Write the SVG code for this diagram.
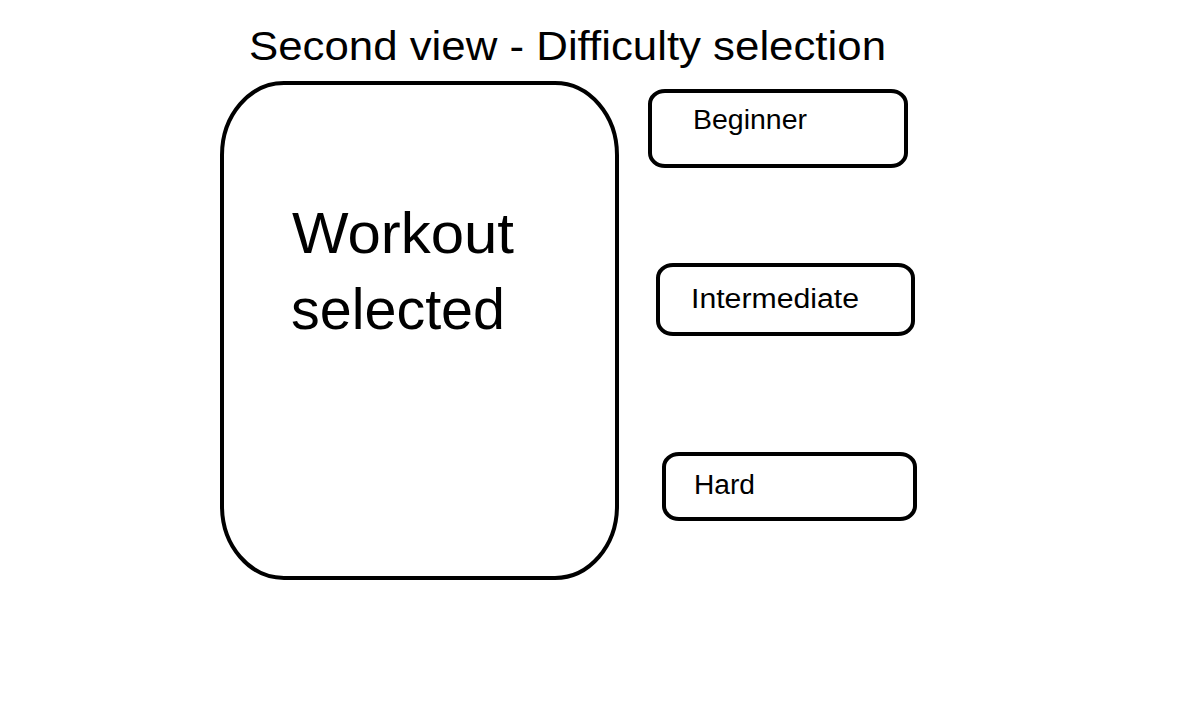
<svg xmlns="http://www.w3.org/2000/svg" width="1185" height="704" viewBox="0 0 1185 704">
<style>
.box{fill:#fff;stroke:#000;stroke-width:4}
.t{font-family:"Liberation Sans",Arial,sans-serif;fill:#000}
</style>
<rect width="1185" height="704" fill="#fff"/>
<text class="t" x="249" y="60" font-size="41" textLength="637" lengthAdjust="spacingAndGlyphs">Second view - Difficulty selection</text>
<g id="workout">
<rect class="box" x="222" y="83" width="395" height="495" rx="62" ry="72"/>
<text class="t" x="292" y="253" font-size="58" textLength="222" lengthAdjust="spacingAndGlyphs">Workout</text>
<text class="t" x="291" y="329" font-size="58" textLength="214" lengthAdjust="spacingAndGlyphs">selected</text>
</g>
<g id="beginner">
<rect class="box" x="650" y="91" width="256" height="75" rx="15" ry="13"/>
<text class="t" x="693" y="129" font-size="27" textLength="114" lengthAdjust="spacingAndGlyphs">Beginner</text>
</g>
<g id="intermediate">
<rect class="box" x="658" y="265" width="255" height="69" rx="15" ry="13"/>
<text class="t" x="691" y="308" font-size="27" textLength="168" lengthAdjust="spacingAndGlyphs">Intermediate</text>
</g>
<g id="hard">
<rect class="box" x="664" y="454" width="251" height="65" rx="15" ry="13"/>
<text class="t" x="694" y="494" font-size="27" textLength="61" lengthAdjust="spacingAndGlyphs">Hard</text>
</g>
<g id="connectors"></g>
</svg>
